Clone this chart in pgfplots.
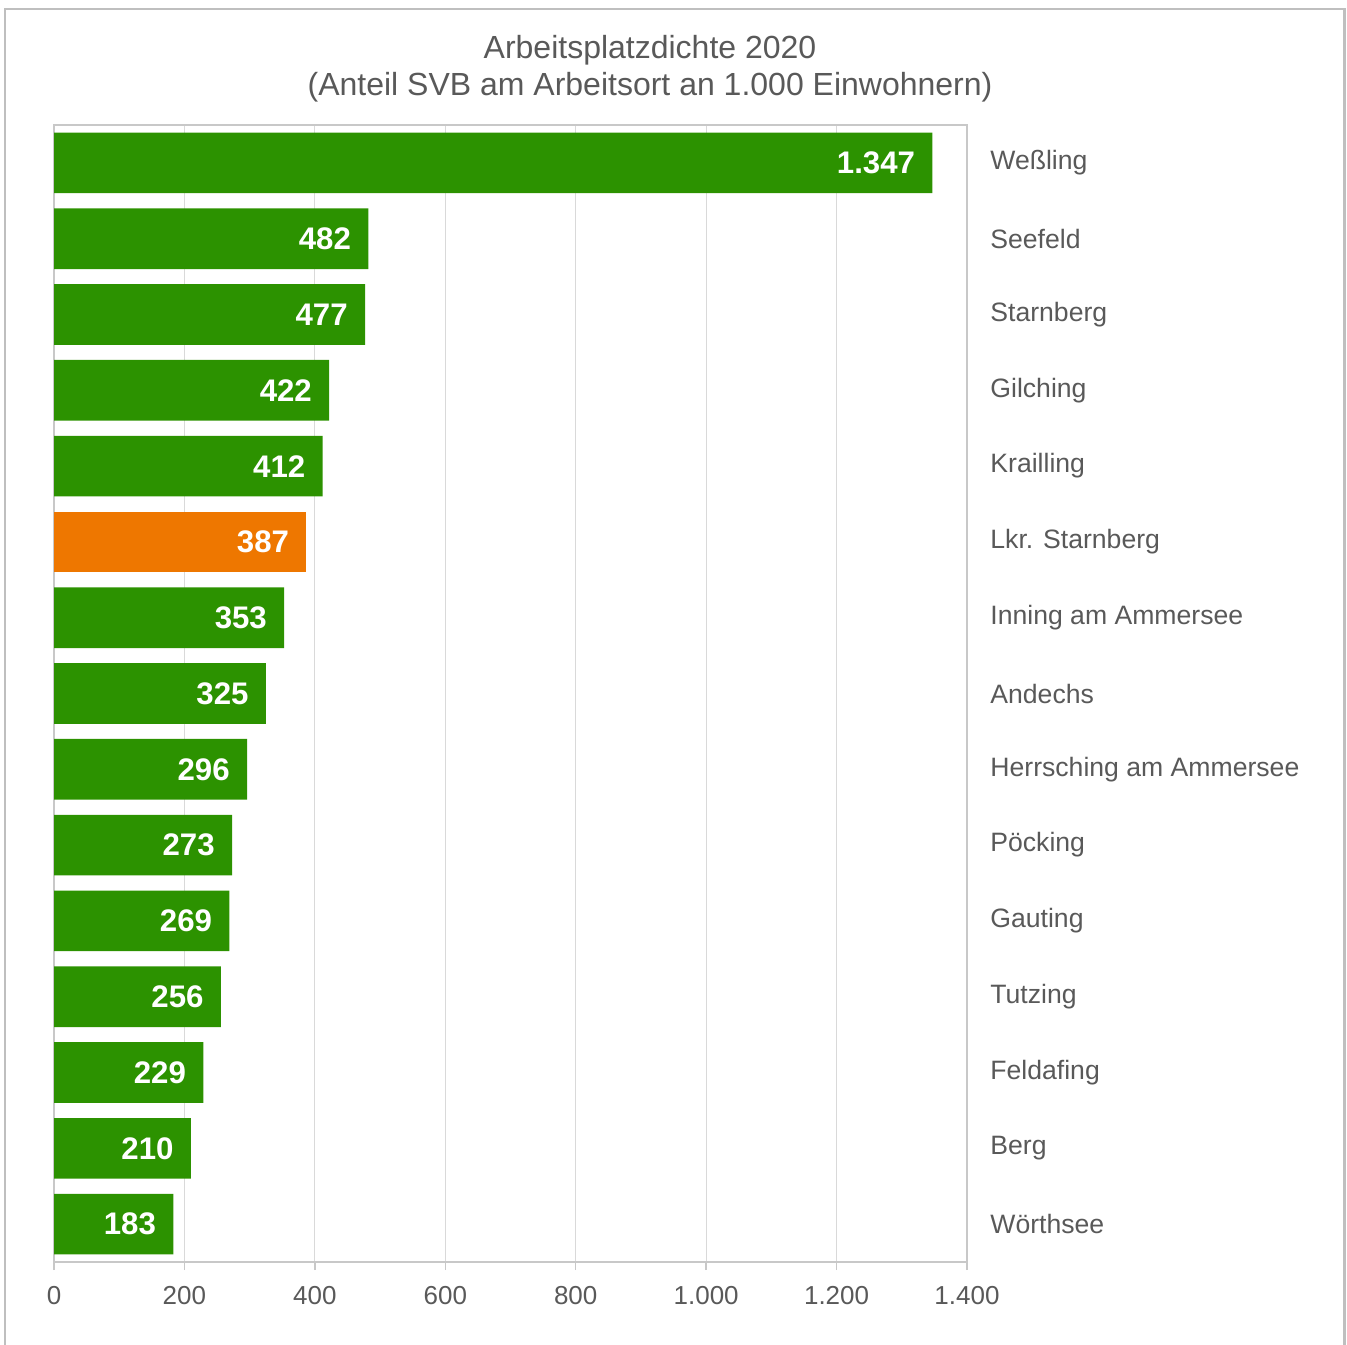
\documentclass[border=0pt]{standalone}
\usepackage{pgfplots}
\pgfplotsset{compat=1.18}
\usepackage{fontspec}
\setmainfont{Liberation Sans}
\definecolor{barGreen}{RGB}{44,146,0}
\definecolor{barOrange}{RGB}{238,119,0}
\definecolor{txtGray}{RGB}{89,89,89}
\definecolor{axGray}{RGB}{200,200,200}
\definecolor{gridGray}{RGB}{217,217,217}
\definecolor{frameGray}{RGB}{191,191,191}
\begin{document}
\begin{tikzpicture}
\useasboundingbox (0,0) rectangle (673.5pt,672pt);
\draw[frameGray, line width=1.3pt] (2.5pt,-1pt) rectangle (672.3pt,667.5pt);
\node[text=txtGray, font=\fontsize{16}{18.5}\selectfont, align=center] at (325pt,637.5pt)
  {Arbeitsplatzdichte 2020\\(Anteil SVB am Arbeitsort an 1.000 Einwohnern)};
\begin{axis}[
  at={(27pt,41pt)}, anchor=south west,
  scale only axis, width=456.5pt, height=568.5pt,
  xbar, bar width=0.8,
  y dir=reverse,
  xmin=0, xmax=1400, ymin=-0.5, ymax=14.5,
  xtick={0,200,...,1400},
  xtick pos=bottom,
  ytick={0,...,14},
  yticklabels={Weßling,Seefeld,Starnberg,Gilching,Krailling,Lkr. Starnberg,Inning am Ammersee,Andechs,Herrsching am Ammersee,Pöcking,Gauting,Tutzing,Feldafing,Berg,Wörthsee},
  yticklabel pos=right,
  yticklabel style={anchor=west, inner sep=0pt, xshift=7.5pt, font=\fontsize{13.3}{15}\selectfont, text=txtGray},
  xticklabel style={inner sep=0pt, yshift=-8pt, font=\fontsize{13}{15}\selectfont, text=txtGray},
  /pgf/number format/assume math mode=true,
  /pgf/number format/1000 sep={.},
  xmajorgrids, grid style={gridGray, line width=0.6pt},
  axis line style={axGray, line width=0.7pt},
  x tick style={axGray, line width=0.7pt},
  tick align=outside, major tick length=4pt,
  y tick style={draw=none},
  every axis plot/.append style={bar shift=0pt, draw=none},
  nodes near coords,
  nodes near coords style={anchor=east, xshift=-8.5pt, inner sep=0pt, text=white, font=\fontsize{15.6}{18}\selectfont\bfseries},
  clip=false,
]
\addplot[fill=barGreen] coordinates {
(1347,0) (482,1) (477,2) (422,3) (412,4)
(353,6) (325,7) (296,8) (273,9) (269,10) (256,11) (229,12) (210,13) (183,14)};
\addplot[fill=barOrange] coordinates {(387,5)};
\end{axis}
\end{tikzpicture}
\end{document}
